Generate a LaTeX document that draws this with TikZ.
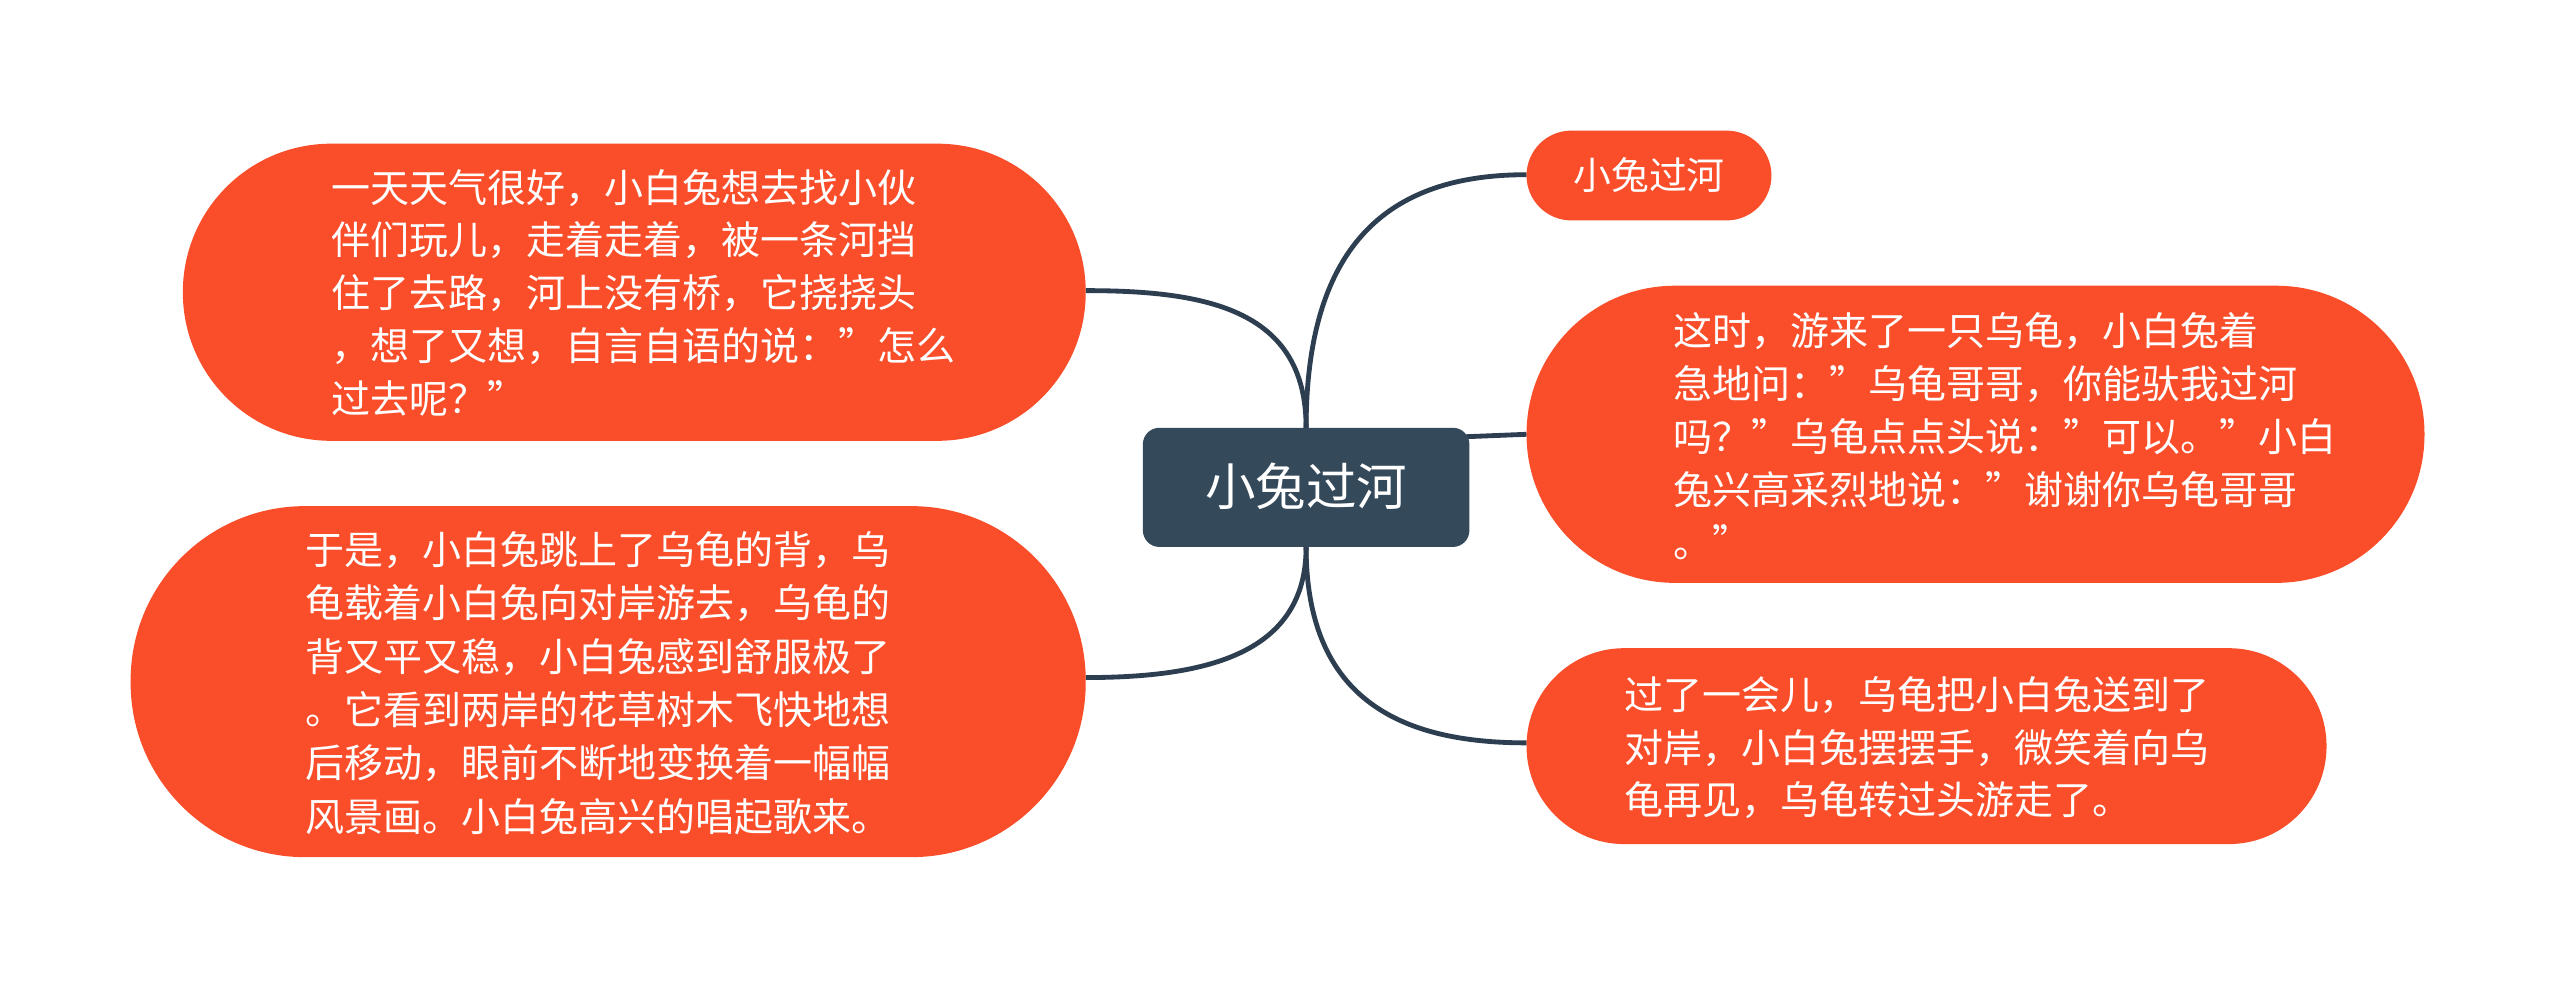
\documentclass[tikz,border=0pt]{standalone}
\usepackage{fontspec}
\setmainfont{Noto Sans CJK SC}
\definecolor{nred}{HTML}{FA4D2A}
\definecolor{ndark}{HTML}{34495A}
\definecolor{lnk}{HTML}{2C3E50}
\begin{document}
\begin{tikzpicture}[x=0.05cm,y=-0.05cm,
  pill/.style={fill=nred,draw=none},
  txt/.style={anchor=west,inner sep=0pt,text=white,font=\fontsize{34}{40}\selectfont},
  lk/.style={draw=lnk,line width=4.2pt}]
\useasboundingbox (0,0) rectangle (1568,604);
\fill[white] (0,0) rectangle (1568,604);
% connectors
\coordinate (ct) at (800,262); \coordinate (cb) at (800,335);
\coordinate (a) at (935,107); \coordinate (b) at (935,266);
\coordinate (c) at (935,455); \coordinate (d) at (665,178);
\coordinate (e) at (665,415); \coordinate (cr) at (885,268);
\draw[lk] (ct) .. controls (800,140) and (860,107) .. (a);
\draw[lk] (cr) -- (b);
\draw[lk] (cb) .. controls (800,430) and (860,455) .. (c);
\draw[lk] (ct) .. controls (800,190) and (740,178) .. (d);
\draw[lk] (cb) .. controls (800,400) and (740,415) .. (e);
% shapes
\fill[ndark,rounded corners=36\pgflinewidth] (700,262) rectangle (900,335);
\path[pill,rounded corners=27.5*1.42pt] (935,80) rectangle (1085,135);
\path[pill,rounded corners=91*1.42pt] (935,175) rectangle (1485,357);
\path[pill,rounded corners=60*1.42pt] (935,397) rectangle (1425,517);
\path[pill,rounded corners=91*1.42pt] (112,88) rectangle (665,270);
\path[pill,rounded corners=107*1.42pt] (80,310) rectangle (665,525);
% texts
\node[txt,anchor=center,font=\fontsize{44}{50}\selectfont] (cn) at (800,298) {小兔过河};
\node[txt,anchor=center,font=\fontsize{33}{40}\selectfont] (tr) at (1010,107) {小兔过河};
\foreach \t [count=\i] in {一天天气很好，小白兔想去找小伙,伴们玩儿，走着走着，被一条河挡,住了去路，河上没有桥，它挠挠头,，想了又想，自言自语的说："怎么,过去呢？"}
  \node[txt] (l1\i) at (203,{115+32.3*(\i-1)}) {\t};
\foreach \t [count=\i] in {这时，游来了一只乌龟，小白兔着,急地问："乌龟哥哥，你能驮我过河,吗？"乌龟点点头说："可以。"小白,兔兴高采烈地说："谢谢你乌龟哥哥,。"}
  \node[txt] (r2\i) at (1025,{203+32.3*(\i-1)}) {\t};
\foreach \t [count=\i] in {过了一会儿，乌龟把小白兔送到了,对岸，小白兔摆摆手，微笑着向乌,龟再见，乌龟转过头游走了。}
  \node[txt] (r3\i) at (995,{426+32*(\i-1)}) {\t};
\foreach \t [count=\i] in {于是，小白兔跳上了乌龟的背，乌,龟载着小白兔向对岸游去，乌龟的,背又平又稳，小白兔感到舒服极了,。它看到两岸的花草树木飞快地想,后移动，眼前不断地变换着一幅幅,风景画。小白兔高兴的唱起歌来。}
  \node[txt] (l2\i) at (187,{337+32.6*(\i-1)}) {\t};
\end{tikzpicture}
\end{document}
